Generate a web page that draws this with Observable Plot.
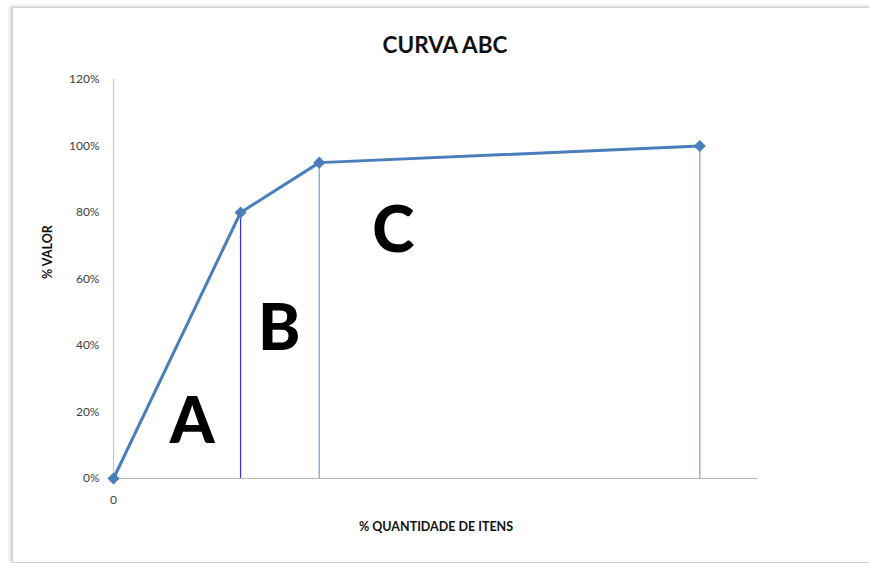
<!DOCTYPE html>
<html>
<head>
<meta charset="utf-8">
<script src="https://cdn.jsdelivr.net/npm/d3@7"></script>
<script src="https://cdn.jsdelivr.net/npm/@observablehq/plot@0.6"></script>
<style>
  html, body { margin: 0; padding: 0; width: 869px; height: 563px; overflow: hidden; background: #ffffff; }
  #frame { position: absolute; left: 12px; top: 7px; width: 880px; height: 554px; border: 1px solid #cfcfcf; box-shadow: -2px -1px 3px rgba(0,0,0,0.18); background: #fff; }
  #title { position: absolute; left: 0; width: 890px; top: 31px; text-align: center; font-family: Lato, "Open Sans", sans-serif; font-weight: bold; font-size: 22.5px; color: #111; }
  #chart { position: absolute; left: 0; top: 0; }
</style>
</head>
<body>
<div id="frame"></div>
<div id="title">CURVA ABC</div>
<div id="chart"></div>
<script>
// % quantidade de itens (x) and % valor (y)
const itemsPct = [0, 19.7, 31.9, 90.9];
const valuePct = [0, 0.80, 0.95, 1.00];
const yTicks = [0, 0.2, 0.4, 0.6, 0.8, 1.0, 1.2];
const xTicks = [0];
const classLabels = ["A", "B", "C"];
const classX = [12.2, 25.7, 43.4];
const classY = [0.108, 0.385, 0.68];
const dropColors = ["#3a3ad6", "#7ea7dc", "#7ea7dc"];

const points = itemsPct.map((x, i) => ({x, y: valuePct[i]}));
const drops = points.slice(1).map((d, i) => ({...d, color: dropColors[i]}));
const letters = classLabels.map((t, i) => ({t, x: classX[i], y: classY[i]}));

const blue = "#4a7ebb";

const chart = Plot.plot({
  width: 869,
  height: 563,
  marginLeft: 113,
  marginRight: 111,
  marginTop: 79,
  marginBottom: 85,
  style: { fontFamily: "Lato, 'Open Sans', sans-serif", fontSize: "12px", background: "transparent", color: "#404040" },
  x: { domain: [0, 100] },
  y: { domain: [0, 1.2] },
  marks: [
    Plot.ruleY([0], { stroke: "#b8b8b8", strokeWidth: 1.2 }),
    Plot.ruleX([0], { y1: 0, y2: 1.2, stroke: "#c8c8c8", strokeWidth: 1.2 }),
    Plot.axisY({ ticks: yTicks, tickFormat: d3.format(".0%"), tickSize: 0, tickPadding: 14, label: null, fill: "#404040", fontSize: 12 }),
    Plot.axisX({ ticks: xTicks, tickFormat: d => String(d), tickSize: 0, tickPadding: 17, label: null, fill: "#404040", fontSize: 12 }),
    Plot.ruleX(drops, { x: "x", y1: 0, y2: "y", stroke: "color", strokeWidth: 1.3 }),
    Plot.line(points, { x: "x", y: "y", stroke: blue, strokeWidth: 3 }),
    Plot.dot(points, { x: "x", y: "y", symbol: "diamond2", r: 4.5, fill: blue, stroke: blue }),
    Plot.text(letters, { x: "x", y: "y", text: "t", textAnchor: "middle", lineAnchor: "bottom", fontSize: 64, fontWeight: 900, fill: "#000" }),
    Plot.text(["% QUANTIDADE DE ITENS"], { frameAnchor: "bottom", dy: 52, fontWeight: "bold", fontSize: 12.5, fill: "#111" }),
    Plot.text(["% VALOR"], { frameAnchor: "left", dx: -66, rotate: -90, fontWeight: "bold", fontSize: 12.5, fill: "#111" })
  ]
});
document.getElementById("chart").appendChild(chart);
</script>
</body>
</html>
